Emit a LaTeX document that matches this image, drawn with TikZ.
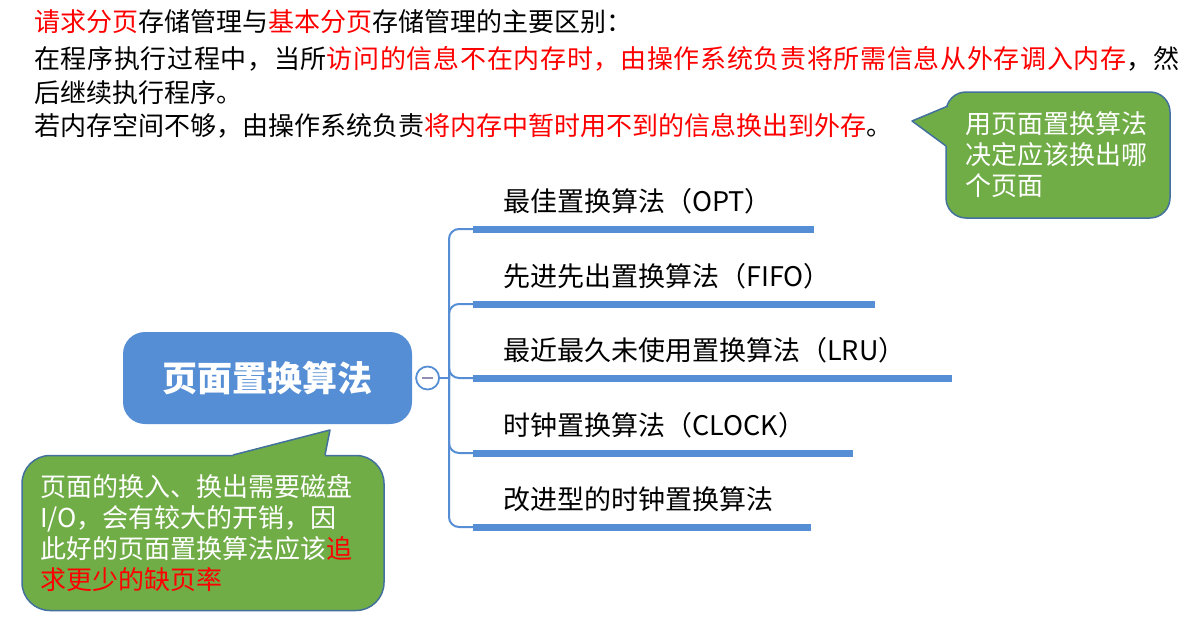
\documentclass[tikz,border=0pt]{standalone}
\usepackage{fontspec}
\setmainfont{Noto Sans CJK SC}
\usepackage{xcolor}
\usetikzlibrary{positioning}
\definecolor{MapBlue}{HTML}{558ED5}
\definecolor{CalloutGreen}{HTML}{70AD47}
\definecolor{CalloutEdge}{HTML}{41719C}
\definecolor{MinusGray}{HTML}{8E8EB8}
\newcommand{\redtxt}[1]{\textcolor{red}{#1}}
\newcommand{\bodysize}{\fontsize{26pt}{31pt}\selectfont}
\tikzset{
  textline/.style={anchor=west, inner sep=0pt, font=\bodysize},
  topic/.style={fill=MapBlue, rounded corners=22pt, minimum width=289pt,
    minimum height=92pt, text=white, font=\fontsize{35pt}{40pt}\selectfont\bfseries},
  foldbtn/.style={circle, draw=MapBlue, line width=1.8pt, fill=white,
    minimum size=23pt, inner sep=0pt},
  spine/.style={draw=MapBlue, line width=2pt, rounded corners=10pt},
  bar/.style={draw=MapBlue, line width=7pt},
  branch/.style={anchor=west, inner sep=0pt, font=\fontsize{27pt}{32pt}\selectfont},
  calloutbox/.style={fill=CalloutGreen, draw=CalloutEdge, line width=1.5pt,
    text=white, font=\bodysize, align=left, inner sep=0pt},
  pointerfill/.style={fill=CalloutGreen},
  pointeredge/.style={draw=CalloutEdge, line width=1.5pt, line join=round},
}

\begin{document}
\begin{tikzpicture}[x=1pt,y=-1pt]
  \path[fill=white, use as bounding box] (0,0) rectangle (1202,627);

  % intro text
  \node[textline] (line1) at (34,22)
    {\redtxt{请求分页}存储管理与\redtxt{基本分页}存储管理的主要区别：};
  \node[textline] (line2) at (34,59)
    {\addfontfeatures{LetterSpace=2.6}在程序执行过程中，当所\redtxt{访问的信息不在内存时，由操作系统负责将所需信息从外存调入内存}，然};
  \node[textline] (line3) at (34,93) {后继续执行程序。};
  \node[textline] (line4) at (34,126)
    {若内存空间不够，由操作系统负责\redtxt{将内存中暂时用不到的信息换出到外存}。};

  % hint callout
  \coordinate (hintTip) at (912,121);
  \coordinate (hintA) at (948,106);
  \coordinate (hintB) at (946,146);
  \node[calloutbox, minimum width=224pt, minimum height=126pt, rounded corners=20pt,
    text width=186pt] (hint) at (1058,155) {用页面置换算法\\决定应该换出哪\\个页面};
  \fill[pointerfill] (hintTip) -- (hintA) -- ([xshift=3pt]hintA) -- ([xshift=3pt]hintB)
    -- (hintB) -- cycle;
  \draw[pointeredge] (hintA) -- (hintTip) -- (hintB);

  % mind map
  \node[topic] (topic) at (267.5,378) {页面置换算法};
  \node[foldbtn, right=3pt of topic] (fold) {\textcolor{MinusGray}{\rule[-1pt]{11pt}{2pt}}};
  \coordinate (hub) at (449,378);
  \draw[spine] (fold) -- (hub);
  \foreach \i/\y/\xe/\lbl in {1/229/814/{最佳置换算法（OPT）},
      2/304/875/{先进先出置换算法（FIFO）},
      3/378/952/{最近最久未使用置换算法（LRU）},
      4/453/853/{时钟置换算法（CLOCK）},
      5/527/811/{改进型的时钟置换算法}} {
    \coordinate (s\i) at (473,\y);
    \coordinate (e\i) at (\xe,\y);
    \draw[spine] (hub) |- (s\i);
    \draw[bar] (s\i) -- (e\i);
    \node[branch] (alg\i) at (503,\y-28) {\lbl};
  }

  % note callout
  \coordinate (noteTip) at (330,430);
  \coordinate (noteA) at (233,455);
  \coordinate (noteB) at (325,455);
  \node[calloutbox, minimum width=362pt, minimum height=155pt, rounded corners=28pt,
    text width=326pt] (note) at (203,533)
    {页面的换入、换出需要磁盘\\I/O，会有较大的开销，因\\此好的页面置换算法应该\redtxt{追}\\\redtxt{求更少的缺页率}};
  \fill[pointerfill] (noteTip) -- (noteA) -- ([yshift=-3pt]noteA) -- ([yshift=-3pt]noteB)
    -- (noteB) -- cycle;
  \draw[pointeredge] (noteA) -- (noteTip) -- (noteB);
\end{tikzpicture}
\end{document}
